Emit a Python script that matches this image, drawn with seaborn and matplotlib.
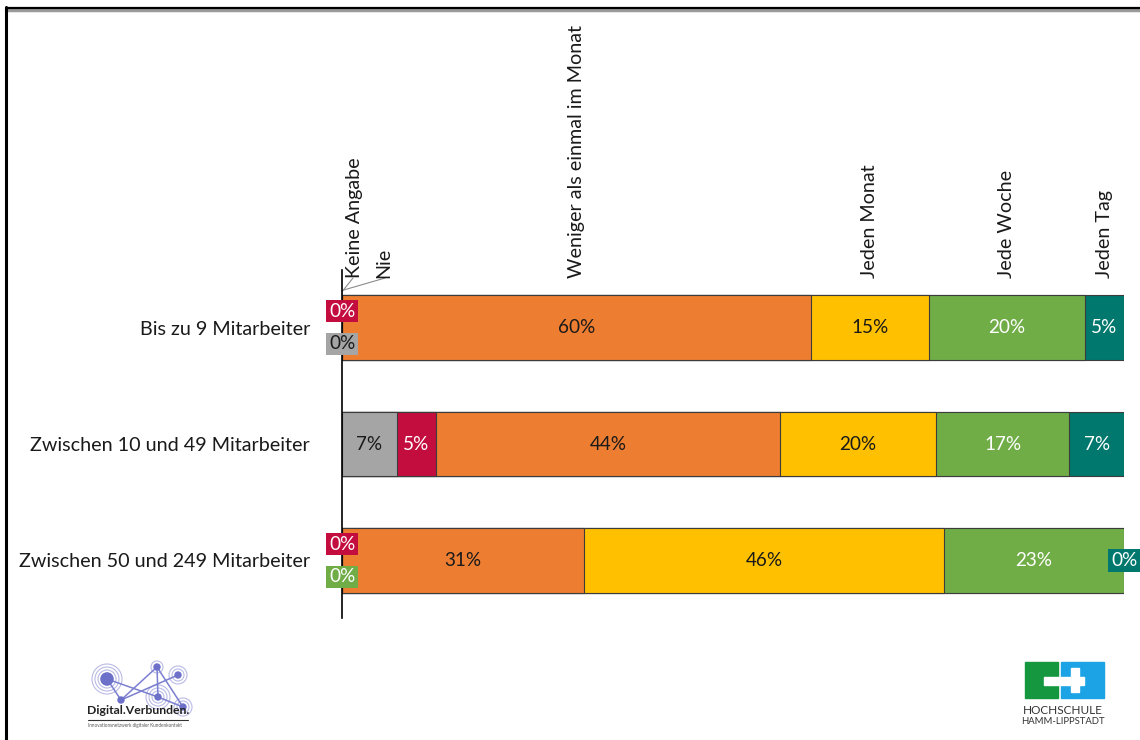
import matplotlib
matplotlib.use("Agg")
import matplotlib.pyplot as plt
import seaborn as sns
from matplotlib.patches import Rectangle, Circle

# Survey data: how often companies use the channel, by company size (percent)
categories = [
    "Bis zu 9 Mitarbeiter",
    "Zwischen 10 und 49 Mitarbeiter",
    "Zwischen 50 und 249 Mitarbeiter",
]
series_names = [
    "Keine Angabe",
    "Nie",
    "Weniger als einmal im Monat",
    "Jeden Monat",
    "Jede Woche",
    "Jeden Tag",
]
keine_angabe = [0, 7, 0]
nie = [0, 5, 0]
weniger_als_monatlich = [60, 44, 31]
jeden_monat = [15, 20, 46]
jede_woche = [20, 17, 23]
jeden_tag = [5, 7, 0]

series_values = [keine_angabe, nie, weniger_als_monatlich,
                 jeden_monat, jede_woche, jeden_tag]

bar_colors = ["#A5A5A5", "#C40D3F", "#ED7D31", "#FFC000", "#70AD47", "#00786D"]
label_colors = ["#1a1a1a", "white", "#1a1a1a", "#1a1a1a", "white", "white"]
# label box colours used for the zero-valued "Keine Angabe" entries
keine_angabe_box = ["#A5A5A5", "#A5A5A5", "#70AD47"]

sns.set_theme(style="white")
plt.rcParams["font.family"] = ["Lato", "DejaVu Sans"]

W, H = 1140, 740
fig = plt.figure(figsize=(W / 100, H / 100), dpi=100)

# main chart axes: 0 % at x=342 px, 100 % at x=1124 px
ax = fig.add_axes([342 / W, 1 - 618 / H, (1124 - 342) / W, (618 - 270) / H])

# stacked bars drawn as cumulative totals, largest first
cumulative = []
running = [0] * len(categories)
for vals in series_values:
    running = [r + v for r, v in zip(running, vals)]
    cumulative.append(list(running))

for i in reversed(range(len(series_values))):
    sns.barplot(x=cumulative[i], y=categories, orient="h", color=bar_colors[i],
                saturation=1, width=0.558, edgecolor="#3c3c3c", linewidth=0.8,
                errorbar=None, ax=ax)

ax.set_xlim(0, 100)
ax.set_ylim(2.494, -0.494)
ax.set_xticks([])
ax.set_xlabel("")
ax.set_ylabel("")
for side in ["top", "right", "bottom"]:
    ax.spines[side].set_visible(False)
ax.spines["left"].set_color("black")
ax.spines["left"].set_linewidth(1.2)
ax.tick_params(axis="y", length=0, pad=23, labelsize=14.2, labelcolor="#1a1a1a")

# value labels
lbl_fs = 13.6
for row in range(len(categories)):
    left = 0
    for i, vals in enumerate(series_values):
        v = vals[row]
        if v > 0:
            ax.text(left + v / 2, row, f"{v}%", ha="center", va="center",
                    fontsize=lbl_fs, color=label_colors[i])
        else:
            box = keine_angabe_box[row] if i == 0 else bar_colors[i]
            if left == 0:
                dy = 0.14 if i == 0 else -0.14
            else:
                dy = 0
            ax.text(left, row + dy, f"{v}%", ha="center", va="center",
                    fontsize=lbl_fs,
                    color="white" if box != "#A5A5A5" else "#1a1a1a",
                    bbox=dict(boxstyle="square,pad=0.14", fc=box, ec="none"),
                    zorder=5, clip_on=False)
        left += v

# series names above the first bar
top_y = -0.425
name_fs = 14.2
left = 0
for i, name in enumerate(series_names):
    v = series_values[i][0]
    if i >= 2:
        ax.text(left + v / 2, top_y, name, rotation=90, ha="center", va="bottom",
                fontsize=name_fs, color="#1a1a1a", clip_on=False)
    left += v

ax.text(1.66, top_y, series_names[0], rotation=90, ha="center", va="bottom",
        fontsize=name_fs, color="#1a1a1a", clip_on=False)
ax.text(5.4, top_y, series_names[1], rotation=90, ha="center", va="bottom",
        fontsize=name_fs, color="#1a1a1a", clip_on=False)
ax.plot([0, 1.4], [-0.307, -0.425], color="#8c8c8c", lw=0.8, clip_on=False)
ax.plot([0.1, 5.5], [-0.32, -0.425], color="#8c8c8c", lw=0.8, clip_on=False)

# overlay in pixel coordinates for frame and logos
ov = fig.add_axes([0, 0, 1, 1], zorder=-1)
ov.set_xlim(0, W)
ov.set_ylim(H, 0)
ov.axis("off")
ov.plot([6, W], [9.5, 9.5], color="#9a9a9a", lw=2.5)
ov.plot([6, W], [7.5, 7.5], color="black", lw=1.6)
ov.plot([6, 6], [7, H], color="black", lw=2.2)

# Digital.Verbunden. network logo
nodes = [(107, 679), (157, 667), (178, 675), (121, 700), (158, 697), (183, 707)]
edges = [(0, 4), (0, 3), (3, 1), (1, 5), (3, 2), (1, 4), (4, 5)]
for a, b in edges:
    ov.plot([nodes[a][0], nodes[b][0]], [nodes[a][1], nodes[b][1]],
            color="#7b7fd0", lw=1.1)
rings = {0: 4, 2: 2, 4: 3, 5: 2, 1: 1}
for idx, n in rings.items():
    for k in range(1, n + 1):
        ov.add_patch(Circle(nodes[idx], 3 + 3 * k, fill=False,
                            ec="#b9bbe6", lw=0.8))
for idx, (x, y) in enumerate(nodes):
    r = 6 if idx == 0 else 3
    ov.add_patch(Circle((x, y), r, color="#6c70c8", zorder=3))
ov.text(87, 711, "Digital.Verbunden.", fontsize=8.8, fontweight="bold",
        color="#222222", va="center", ha="left")
ov.plot([88, 188], [719.5, 719.5], color="#333333", lw=0.8)
ov.text(88, 726, "Innovationsnetzwerk digitaler Kundenkontakt", fontsize=3.3,
        color="#555555", va="center", ha="left")

# Hochschule Hamm-Lippstadt logo
ov.add_patch(Rectangle((1025, 662), 33, 36, color="#15973f"))
ov.add_patch(Rectangle((1061, 662), 43, 36, color="#1ba3e6"))
ov.add_patch(Rectangle((1044, 677), 40, 8, color="white"))
ov.add_patch(Rectangle((1071, 668), 8, 24, color="white"))
ov.text(1063, 710, "HOCHSCHULE", fontsize=8.5, color="#333333",
        ha="center", va="center")
ov.text(1063, 721, "HAMM-LIPPSTADT", fontsize=6.8, color="#333333",
        ha="center", va="center")

fig.savefig("out.png", dpi=100, facecolor="white")
